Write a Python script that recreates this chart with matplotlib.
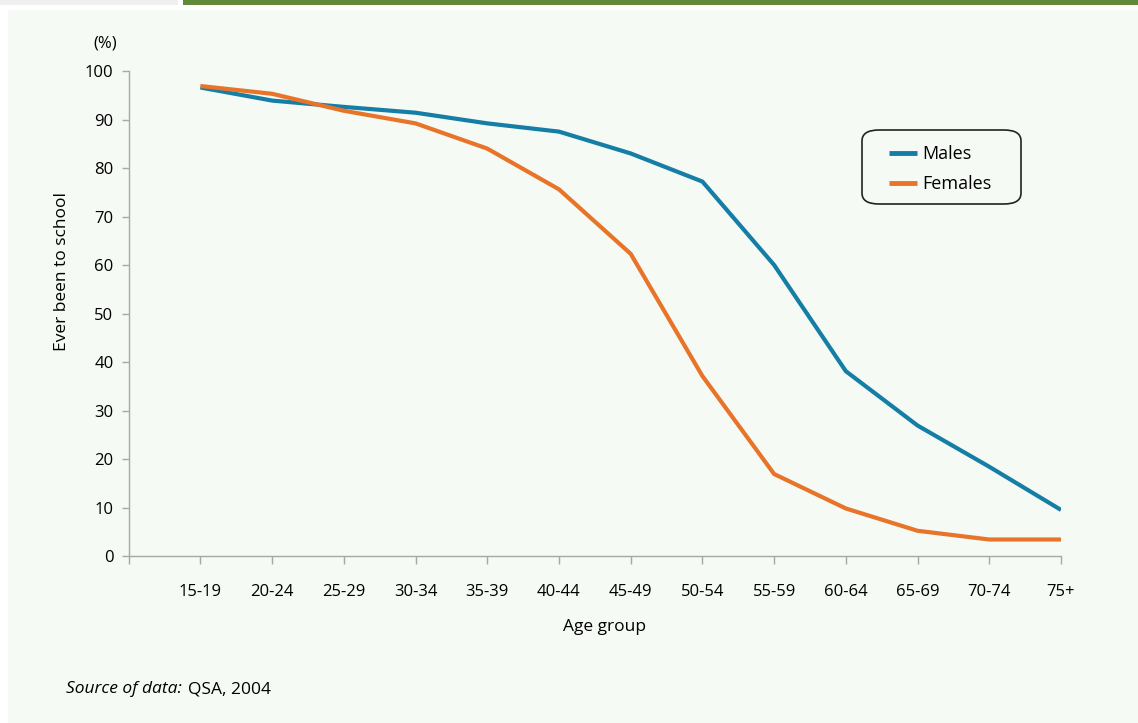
import matplotlib
matplotlib.use("Agg")
import matplotlib.pyplot as plt
from matplotlib.patches import Rectangle, FancyBboxPatch

# Data
age_groups = ['15-19', '20-24', '25-29', '30-34', '35-39', '40-44', '45-49',
              '50-54', '55-59', '60-64', '65-69', '70-74', '75+']
males = [96.6, 93.9, 92.6, 91.4, 89.2, 87.5, 83.0, 77.2, 60.0, 38.1, 26.9, 18.4, 9.5]
females = [96.9, 95.3, 91.8, 89.2, 84.0, 75.6, 62.3, 37.1, 16.9, 9.8, 5.2, 3.4, 3.4]
y_ticks = [0, 10, 20, 30, 40, 50, 60, 70, 80, 90, 100]

plt.rcParams['font.family'] = ['Open Sans', 'DejaVu Sans']

W, H = 1138, 723
fig = plt.figure(figsize=(W / 100, H / 100), dpi=100, facecolor='white')

# background panel and top bands
fig.patches.append(Rectangle((8 / W, 0), 1 - 8 / W, 1 - 10 / H, transform=fig.transFigure,
                             facecolor='#f5faf4', edgecolor='none', zorder=-5))
fig.patches.append(Rectangle((0, 1 - 5 / H), 178 / W, 5 / H, transform=fig.transFigure,
                             facecolor='#efefef', edgecolor='none', zorder=-5))
fig.patches.append(Rectangle((183 / W, 1 - 5 / H), 1 - 183 / W, 5 / H, transform=fig.transFigure,
                             facecolor='#5f8a3a', edgecolor='none', zorder=-5))

ax_w, ax_h = 1061 - 128.7, 556 - 71
ax = fig.add_axes([128.7 / W, 1 - 556 / H, ax_w / W, ax_h / H])
ax.set_zorder(1)
ax.set_facecolor('none')

x = list(range(len(age_groups)))
ax.plot(x, males, color='#157ea6', linewidth=3, label='Males', solid_capstyle='butt')
ax.plot(x, females, color='#e8742a', linewidth=3, label='Females', solid_capstyle='butt')

ax.set_xlim(-1, len(age_groups) - 1)
ax.set_ylim(0, 100)
ax.set_xticks([-1] + x)
ax.set_xticklabels([''] + age_groups)
ax.set_yticks(y_ticks)

for side in ['top', 'right']:
    ax.spines[side].set_visible(False)
for side in ['left', 'bottom']:
    ax.spines[side].set_color('#a8a8a8')
    ax.spines[side].set_linewidth(1)

ax.tick_params(axis='x', direction='out', length=6, width=1, color='#a8a8a8',
               labelsize=12, pad=14, labelcolor='black')
ax.tick_params(axis='y', direction='out', length=5, width=1, color='#a8a8a8',
               labelsize=12, pad=6, labelcolor='black')

ax.set_xlabel('Age group', fontsize=12.5)
ax.xaxis.set_label_coords((605 - 128.7) / ax_w, (556 - 627) / ax_h)
ax.xaxis.label.set_va('center')
ax.set_ylabel('Ever been to school', fontsize=12.5)
ax.yaxis.set_label_coords((61.7 - 128.7) / ax_w, (556 - 271) / ax_h)
ax.yaxis.label.set_va('center')
fig.text(105 / W, 1 - 43 / H, '(%)', fontsize=12, ha='center', va='center')

# legend box
fig.patches.append(FancyBboxPatch((862 / W, 1 - 204 / H), (1021 - 862) / W, (204 - 130) / H,
                                  boxstyle='round,pad=0,rounding_size=0.015',
                                  transform=fig.transFigure, facecolor='none',
                                  edgecolor='#222222', linewidth=1.2, zorder=3))
leg = ax.legend(loc='upper left', bbox_to_anchor=(889 / W, 1 - 145 / H),
                bbox_transform=fig.transFigure, frameon=False, fontsize=13,
                borderpad=0, borderaxespad=0,
                handlelength=1.55, handletextpad=0.3, labelspacing=0.68)
for line in leg.get_lines():
    line.set_linewidth(3.5)

# source note
fig.text(66 / W, 1 - 689 / H, 'Source of data:', fontsize=12.5, style='italic',
         ha='left', va='center')
fig.text(188 / W, 1 - 689 / H, 'QSA, 2004', fontsize=12.5, ha='left', va='center')

fig.savefig('out.png', dpi=100, facecolor=fig.get_facecolor())
